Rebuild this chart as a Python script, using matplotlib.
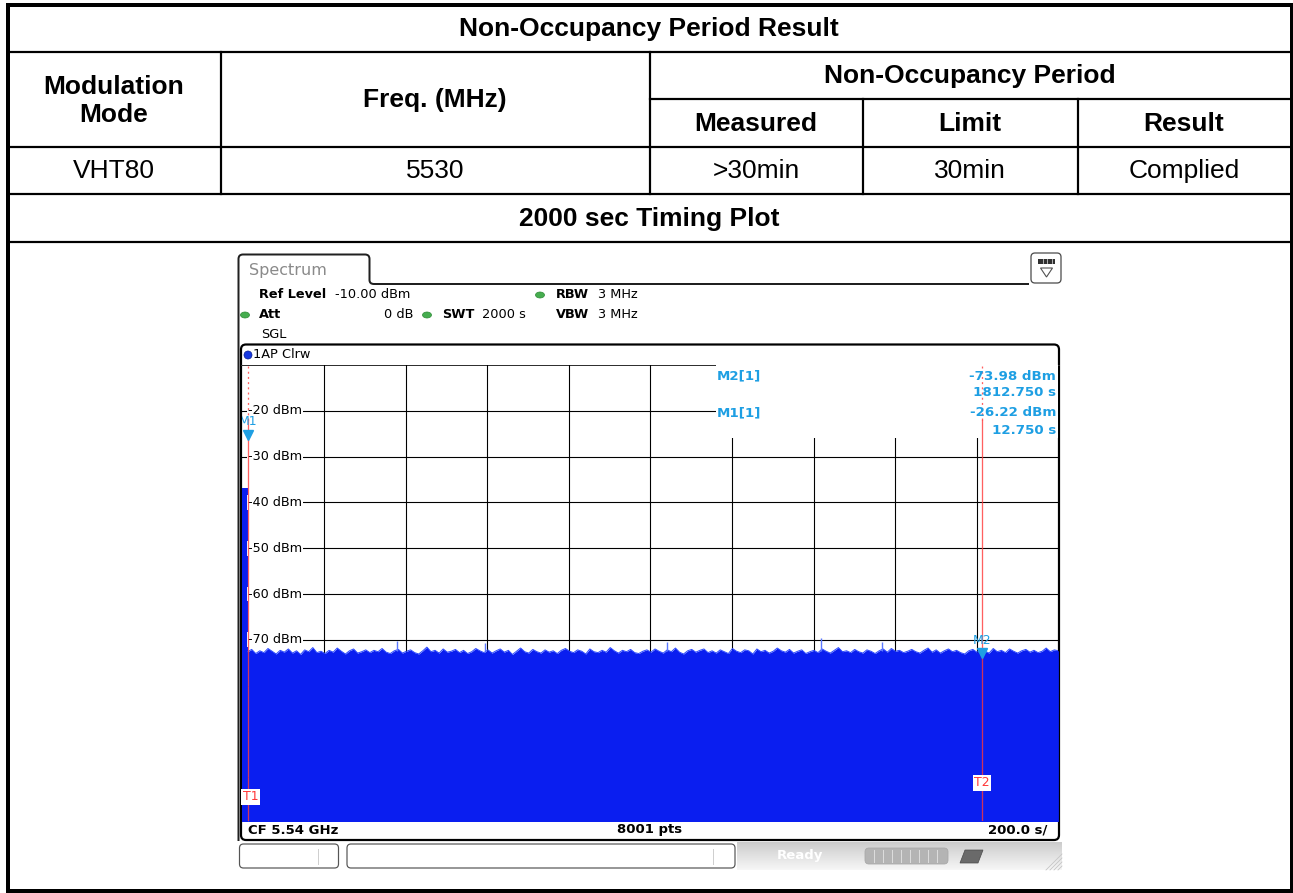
import numpy as np
import matplotlib
matplotlib.use('Agg')
import matplotlib.pyplot as plt
from matplotlib.patches import Rectangle, FancyBboxPatch, Ellipse, Circle, PathPatch, Polygon
from matplotlib.path import Path

# ---------------- data ----------------
table_title = "Non-Occupancy Period Result"
head_mode = ["Modulation", "Mode"]
head_freq = "Freq. (MHz)"
head_group = "Non-Occupancy Period"
head_sub = ["Measured", "Limit", "Result"]
row_values = ["VHT80", "5530", ">30min", "30min", "Complied"]
plot_title = "2000 sec Timing Plot"

ref_level = -10.0
grid_levels = [-20, -30, -40, -50, -60, -70, -80, -90, -100]
grid_labels = ["-20 dBm", "-30 dBm", "-40 dBm", "-50 dBm", "-60 dBm", "-70 dBm"]
sweep_time = 2000.0
burst_times = [0.0, 12.75]
burst_levels = [-36.9, -36.9]
noise_start = 12.75
noise_dbm = [
    -72.6, -72.1, -73.0, -72.4, -72.8, -71.9, -72.5, -73.1, -72.3, -72.7,
    -72.0, -72.9, -72.4, -73.2, -72.2, -72.6, -71.7, -72.8, -72.5, -73.0,
    -72.3, -72.7, -71.8, -72.5, -73.1, -72.4, -72.0, -72.9, -72.6, -72.2,
    -72.8, -72.3, -72.6, -71.9, -72.7, -73.0, -72.4, -72.1, -72.9, -72.5,
    -72.2, -72.8, -73.1, -72.4, -71.6, -72.6, -72.3, -72.9, -72.0, -72.7,
    -72.5, -72.1, -72.8, -72.3, -73.0, -72.6, -71.9, -72.4, -72.8, -72.2,
    -72.9, -72.4, -72.0, -72.7, -72.3, -73.2, -72.5, -71.8, -72.6, -72.9,
    -72.1, -72.6, -72.9, -72.2, -72.7, -72.4, -73.0, -72.3, -71.9, -72.5,
    -72.8, -72.2, -72.5, -73.1, -72.0, -72.6, -72.8, -72.3, -72.7, -71.7,
    -72.4, -72.9, -72.3, -72.6, -72.1, -72.8, -73.0, -72.5, -72.2, -72.7,
    -72.0, -72.5, -72.9, -72.2, -72.6, -71.8, -72.7, -73.1, -72.4, -72.1,
    -72.7, -72.3, -72.0, -72.8, -72.4, -72.9, -72.2, -72.6, -73.0, -71.9,
    -72.5, -72.8, -72.2, -72.4, -73.1, -72.0, -72.6, -72.3, -72.9, -72.5,
    -71.8, -72.4, -72.7, -72.1, -72.9, -72.5, -72.2, -73.0, -72.6, -72.3,
    -72.8, -72.0, -72.5, -72.9, -72.3, -71.7, -72.6, -72.4, -72.8, -72.1,
    -72.6, -72.9, -72.2, -72.5, -73.0, -72.4, -72.0, -72.7, -71.9, -72.5,
    -72.3, -72.8, -72.5, -72.1, -72.6, -72.9, -72.3, -71.8, -72.7, -72.2,
    -72.9, -72.4, -72.0, -72.6, -72.3, -72.8, -73.1, -72.4, -72.1, -72.7,
    -72.2, -72.5, -72.9, -71.9, -72.6, -72.3, -72.8, -72.0, -72.5, -72.9,
    -72.4, -72.1, -72.7, -72.3, -72.8, -72.5, -71.8, -72.6, -72.2, -72.4,
]
spike_times = [379.0, 594.0, 1040.0, 1418.0, 1567.0]
spike_levels = [-70.3, -70.6, -70.5, -69.7, -70.4]
marker_names = ["M1", "M2"]
marker_times = [12.75, 1812.75]
marker_levels = [-26.22, -73.98]
tline_names = ["T1", "T2"]
tline_times = [12.75, 1812.75]
tline_label_levels = [-104.3, -101.2]
info_rows = [("M2[1]", "-73.98 dBm", "1812.750 s"), ("M1[1]", "-26.22 dBm", "12.750 s")]
setting_ref = "-10.00 dBm"
setting_att = "0 dB"
setting_swt = "2000 s"
setting_rbw = "3 MHz"
setting_vbw = "3 MHz"
footer = ["CF 5.54 GHz", "8001 pts", "200.0 s/"]

# ---------------- figure ----------------
W, H = 1293, 893
fig = plt.figure(figsize=(W / 100, H / 100), dpi=100)
ax = fig.add_axes([0, 0, 1, 1])
ax.set_xlim(0, W)
ax.set_ylim(H, 0)
ax.axis('off')
P = 0.72  # points per pixel

TF = ['Liberation Sans', 'DejaVu Sans']
SF = ['DejaVu Sans']

# ---------- table ----------
ax.add_patch(Rectangle((7.5, 4.5), 1284, 886.5, fill=False, ec='black', lw=4 * P, zorder=5))
lw_in = 2.2 * P
for y in [52, 147, 194, 242]:
    ax.plot([7.5, 1291.5], [y, y], color='black', lw=lw_in, solid_capstyle='butt')
ax.plot([650, 1291.5], [99, 99], color='black', lw=lw_in)
for x in [221, 650]:
    ax.plot([x, x], [52, 194], color='black', lw=lw_in)
for x in [863, 1078]:
    ax.plot([x, x], [99, 194], color='black', lw=lw_in)

fs_t = 19
ax.text(649, 29, table_title, ha='center', va='center', fontsize=fs_t, fontweight='bold', family=TF)
ax.text(114, 87, head_mode[0], ha='center', va='center', fontsize=fs_t, fontweight='bold', family=TF)
ax.text(114, 115, head_mode[1], ha='center', va='center', fontsize=fs_t, fontweight='bold', family=TF)
ax.text(435, 100, head_freq, ha='center', va='center', fontsize=fs_t, fontweight='bold', family=TF)
ax.text(970, 76, head_group, ha='center', va='center', fontsize=fs_t, fontweight='bold', family=TF)
sub_cx = [756, 970, 1184]
for cx, s in zip(sub_cx, head_sub):
    ax.text(cx, 124, s, ha='center', va='center', fontsize=fs_t, fontweight='bold', family=TF)
row_cx = [114, 435, 756, 970, 1184]
for cx, s in zip(row_cx, row_values):
    ax.text(cx, 171, s, ha='center', va='center', fontsize=fs_t, family=TF)
ax.text(649, 219, plot_title, ha='center', va='center', fontsize=fs_t, fontweight='bold', family=TF)

# ---------- instrument chrome ----------
verts = [(238.5, 841), (238.5, 259), (238.5, 254.5), (243, 254.5), (365, 254.5),
         (369.5, 254.5), (369.5, 259), (369.5, 280), (369.5, 284), (374, 284), (1029, 284)]
codes = [Path.MOVETO, Path.LINETO, Path.CURVE3, Path.CURVE3, Path.LINETO,
         Path.CURVE3, Path.CURVE3, Path.LINETO, Path.CURVE3, Path.CURVE3, Path.LINETO]
ax.add_patch(PathPatch(Path(verts, codes), fill=False, ec='#202020', lw=2 * P))
ax.text(249, 270, "Spectrum", ha='left', va='center', fontsize=11.5, color='#8a8a8a', family=SF)

ax.add_patch(FancyBboxPatch((1031, 253), 30, 30, boxstyle='round,pad=0,rounding_size=4',
                            fc='white', ec='#505050', lw=1.3 * P))
ax.add_patch(Rectangle((1038, 258.5), 17, 5, fc='#303030', ec='none'))
for xx in [1042.5, 1047, 1051.5]:
    ax.plot([xx, xx], [259, 263], color='#d0d0d0', lw=0.8 * P)
ax.add_patch(Polygon([(1040.5, 268), (1052.5, 268), (1046.5, 277)], closed=True, fill=False,
                     ec='#505050', lw=1.1 * P))

fs_s = 9.3
green = '#46ad4f'
def gdot(x, y):
    ax.add_patch(Ellipse((x, y), 9, 6, fc=green, ec='#2e8a36', lw=0.5))
ax.text(259, 295, "Ref Level", fontsize=fs_s, fontweight='bold', va='center', family=SF)
ax.text(335, 295, setting_ref, fontsize=fs_s, va='center', family=SF)
gdot(540, 295)
ax.text(556, 295, "RBW", fontsize=fs_s, fontweight='bold', va='center', family=SF)
ax.text(598, 295, setting_rbw, fontsize=fs_s, va='center', family=SF)
gdot(245, 315)
ax.text(259, 315, "Att", fontsize=fs_s, fontweight='bold', va='center', family=SF)
ax.text(413, 315, setting_att, fontsize=fs_s, va='center', ha='right', family=SF)
gdot(427, 315)
ax.text(442, 315, "SWT", fontsize=fs_s, fontweight='bold', va='center', family=SF)
ax.text(482, 315, setting_swt, fontsize=fs_s, va='center', family=SF)
ax.text(556, 315, "VBW", fontsize=fs_s, fontweight='bold', va='center', family=SF)
ax.text(598, 315, setting_vbw, fontsize=fs_s, va='center', family=SF)
ax.text(261, 335, "SGL", fontsize=fs_s, va='center', family=SF)

ax.add_patch(FancyBboxPatch((241, 344.5), 818, 495.5, boxstyle='round,pad=0,rounding_size=5',
                            fc='white', ec='black', lw=2.2 * P, zorder=1))
ax.plot([241, 1059], [365, 365], color='#303030', lw=1 * P, zorder=2)
ax.add_patch(Circle((248, 355), 4, fc='#1638e0', ec='#0a1e90', lw=0.5, zorder=2))
ax.text(253, 355, "1AP Clrw", fontsize=fs_s, va='center', family=SF, zorder=2)
ax.text(248, 830, footer[0], fontsize=9.5, fontweight='bold', va='center', family=SF, zorder=2)
ax.text(650, 830, footer[1], fontsize=9.5, fontweight='bold', va='center', ha='center', family=SF, zorder=2)
ax.text(1047, 830, footer[2], fontsize=9.5, fontweight='bold', va='center', ha='right', family=SF, zorder=2)

grad = np.linspace(0.80, 0.965, 40).reshape(-1, 1)
ax.imshow(np.repeat(grad, 2, axis=1), cmap='gray', vmin=0, vmax=1, extent=(737, 1062, 870, 842),
          aspect='auto', zorder=1, interpolation='bilinear')
ax.set_xlim(0, W)
ax.set_ylim(H, 0)
ax.add_patch(FancyBboxPatch((239.5, 844), 99, 24, boxstyle='round,pad=0,rounding_size=4',
                            fc='white', ec='#555555', lw=1.2 * P, zorder=2))
ax.plot([318, 318], [849, 864], color='#cfcfcf', lw=1 * P, zorder=3)
ax.add_patch(FancyBboxPatch((347, 844), 388, 24, boxstyle='round,pad=0,rounding_size=4',
                            fc='white', ec='#555555', lw=1.2 * P, zorder=2))
ax.plot([713, 713], [849, 864], color='#cfcfcf', lw=1 * P, zorder=3)
ax.text(800, 856, "Ready", fontsize=9.5, fontweight='bold', color='white', va='center', ha='center',
        family=SF, zorder=3)
ax.add_patch(FancyBboxPatch((865, 848), 83, 16, boxstyle='round,pad=0,rounding_size=4',
                            fc='#b4b4b4', ec='#a8a8a8', lw=0.8 * P, zorder=2))
for xx in np.arange(874, 945, 9):
    ax.plot([xx, xx], [850, 862], color='#dcdcdc', lw=1 * P, zorder=3)
ax.add_patch(Polygon([(960, 863), (965, 850), (983, 850), (978, 863)], closed=True,
                     fc='#6a6a6a', ec='#4a4a4a', lw=0.5, zorder=3))
for k in range(5):
    ax.plot([1046 + k * 4, 1062], [870, 870 - (16 - k * 4)], color='#c4c4c4', lw=0.8 * P, zorder=3)

# ---------- spectrum axes ----------
gx0, gx1 = 242.4, 1058.4
gy0, gy1 = 365.0, 821.0
px_per_db = 4.58
sp = fig.add_axes([gx0 / W, 1 - gy1 / H, (gx1 - gx0) / W, (gy1 - gy0) / H])
sp.set_xlim(0, sweep_time)
sp.set_ylim(ref_level - (gy1 - gy0) / px_per_db, ref_level)
sp.axis('off')
sp.patch.set_visible(False)

glw = 1.1 * P
for i in range(1, 10):
    t = sweep_time * i / 10
    sp.plot([t, t], [-200, 0], color='black', lw=glw, zorder=1)
for lv in grid_levels:
    sp.plot([0, sweep_time], [lv, lv], color='black', lw=glw, zorder=1)

blue = '#0a1ef0'
noise_t = np.linspace(noise_start, sweep_time, len(noise_dbm))
sp.fill_between(burst_times, burst_levels, -200, color=blue, lw=0, zorder=2)
sp.fill_between(noise_t, noise_dbm, -200, color=blue, lw=0, zorder=2)
sp.plot(noise_t, noise_dbm, color='#2a48ff', lw=0.7, zorder=2)
sp.vlines(spike_times, -72.5, spike_levels, color='#5a78ff', lw=1.0, zorder=2)

for lv, lab in zip(grid_levels, grid_labels):
    sp.text(13.5, lv, lab, fontsize=9.2, va='center', ha='left', family=SF, zorder=3,
            bbox=dict(fc='white', ec='none', pad=0.6))

yinfo_bot = ref_level - (438 - gy0) / px_per_db
sp.add_patch(Rectangle((1160, yinfo_bot), sweep_time - 1160, ref_level - yinfo_bot,
                       fc='white', ec='none', zorder=3))
cyan = '#1e9fe3'
tr = ax.transData
info_y = [(376, 393), (413, 430)]
for (nm, v1, v2), (ya, yb) in zip(info_rows, info_y):
    sp.text(717, ya, nm, transform=tr, fontsize=9.6, fontweight='bold', color=cyan, va='center',
            ha='left', family=SF, zorder=6)
    sp.text(1056, ya, v1, transform=tr, fontsize=9.6, fontweight='bold', color=cyan, va='center',
            ha='right', family=SF, zorder=6)
    sp.text(1056, yb, v2, transform=tr, fontsize=9.6, fontweight='bold', color=cyan, va='center',
            ha='right', family=SF, zorder=6)

red = '#ff3838'
y_dash = ref_level - (420 - gy0) / px_per_db
for nm, t, ll in zip(tline_names, tline_times, tline_label_levels):
    sp.plot([t, t], [-200, y_dash], color=red, lw=1.3 * P, alpha=0.8, zorder=4)
    sp.plot([t, t], [y_dash, ref_level], color=red, lw=1.3 * P, alpha=0.8, ls=(0, (1.5, 2.5)), zorder=4)
    sp.text(t - 11 if nm == 'T1' else t, ll, nm, fontsize=9, color=red, va='center',
            ha='left' if nm == 'T1' else 'center', family=SF, zorder=5,
            bbox=dict(fc='white', ec='none', pad=1.2))

for nm, t, lv in zip(marker_names, marker_times, marker_levels):
    sp.plot([t], [lv + 1.0], marker='v', ms=6.5, color=cyan, mec=cyan, zorder=6, clip_on=False)
    sp.text(t, lv + 3.9, nm, fontsize=9, color=cyan, va='center', ha='center', family=SF,
            zorder=6, clip_on=True)

fig.savefig('out.png', dpi=100)
